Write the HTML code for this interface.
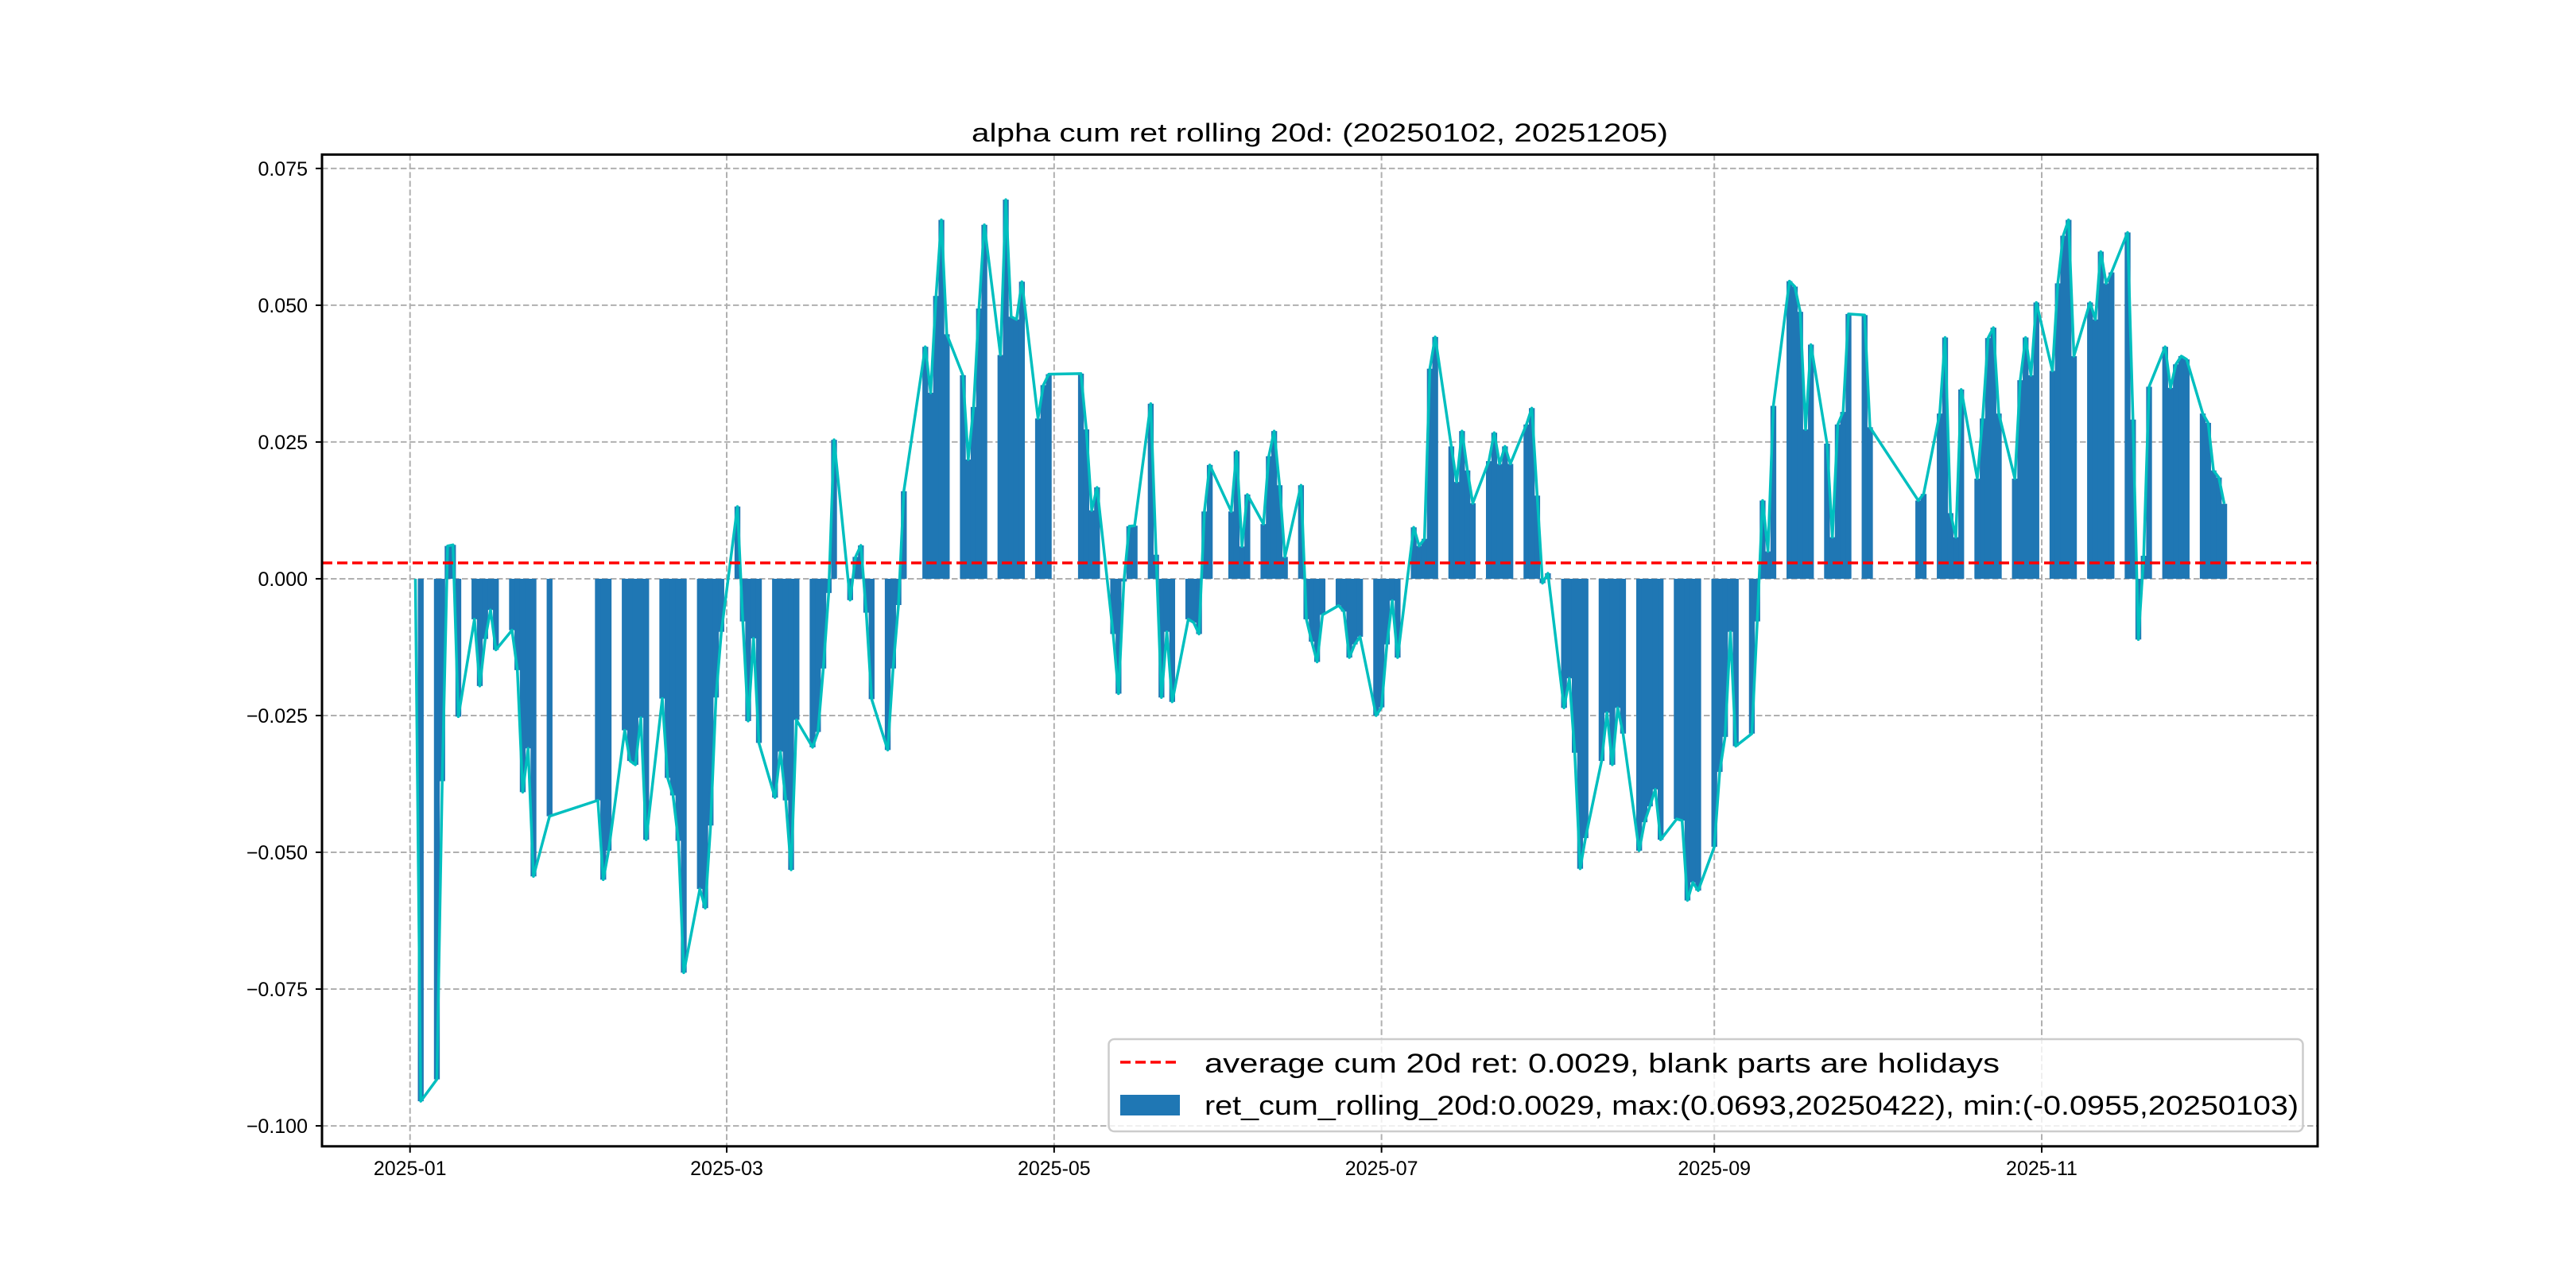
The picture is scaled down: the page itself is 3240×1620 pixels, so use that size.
<!DOCTYPE html>
<html>
<head>
<meta charset="utf-8">
<style>
  html, body { margin: 0; padding: 0; background: #ffffff; }
  svg { display: block; }
  text { font-family: "Liberation Sans", "WenQuanYi Zen Hei", sans-serif; fill: #000; }
</style>
</head>
<body>
<svg id="chart" xmlns="http://www.w3.org/2000/svg" width="3240" height="1620" viewBox="0 0 3240 1620">
  <rect x="0" y="0" width="3240" height="1620" fill="#ffffff"/>
  <g id="grid"></g>
  <g id="bars"></g>
  <g id="lineg"></g>
  <g id="avgg"></g>
  <rect x="405" y="194.4" width="2510" height="1247.4" fill="none" stroke="#000" stroke-width="3"/>
  <g id="ticks"></g>
  <text x="1660" y="178" text-anchor="middle" font-size="32" textLength="876" lengthAdjust="spacingAndGlyphs">alpha cum ret rolling 20d: (20250102, 20251205)</text>
  <g>
    <rect x="1394.5" y="1307" width="1502" height="116" rx="7" ry="7" fill="#ffffff" fill-opacity="0.8" stroke="#cccccc" stroke-width="2.5"/>
    <line x1="1409" y1="1336" x2="1484" y2="1336" stroke="#ff0000" stroke-width="3.5" stroke-dasharray="13,6"/>
    <text x="1515" y="1349" font-size="34" textLength="1000" lengthAdjust="spacingAndGlyphs">average cum 20d ret: 0.0029, blank parts are holidays</text>
    <rect x="1409" y="1377" width="75" height="26" fill="#1f77b4"/>
    <text x="1515" y="1402" font-size="34" textLength="1376" lengthAdjust="spacingAndGlyphs">ret_cum_rolling_20d:0.0029, max:(0.0693,20250422), min:(-0.0955,20250103)</text>
  </g>
</svg>
<script>
const dates = [
"01-02","01-03","01-06","01-07","01-08","01-09","01-10","01-13","01-14","01-15","01-16","01-17","01-20","01-21","01-22","01-23","01-24","01-27",
"02-05","02-06","02-07","02-10","02-11","02-12","02-13","02-14","02-17","02-18","02-19","02-20","02-21","02-24","02-25","02-26","02-27","02-28",
"03-03","03-04","03-05","03-06","03-07","03-10","03-11","03-12","03-13","03-14","03-17","03-18","03-19","03-20","03-21","03-24","03-25","03-26","03-27","03-28","03-31",
"04-01","04-02","04-03","04-07","04-08","04-09","04-10","04-11","04-14","04-15","04-16","04-17","04-18","04-21","04-22","04-23","04-24","04-25","04-28","04-29","04-30",
"05-06","05-07","05-08","05-09","05-12","05-13","05-14","05-15","05-16","05-19","05-20","05-21","05-22","05-23","05-26","05-27","05-28","05-29","05-30",
"06-03","06-04","06-05","06-06","06-09","06-10","06-11","06-12","06-13","06-16","06-17","06-18","06-19","06-20","06-23","06-24","06-25","06-26","06-27","06-30",
"07-01","07-02","07-03","07-04","07-07","07-08","07-09","07-10","07-11","07-14","07-15","07-16","07-17","07-18","07-21","07-22","07-23","07-24","07-25","07-28","07-29","07-30","07-31",
"08-01","08-04","08-05","08-06","08-07","08-08","08-11","08-12","08-13","08-14","08-15","08-18","08-19","08-20","08-21","08-22","08-25","08-26","08-27","08-28","08-29",
"09-01","09-02","09-03","09-04","09-05","09-08","09-09","09-10","09-11","09-12","09-15","09-16","09-17","09-18","09-19","09-22","09-23","09-24","09-25","09-26","09-29","09-30",
"10-09","10-10","10-13","10-14","10-15","10-16","10-17","10-20","10-21","10-22","10-23","10-24","10-27","10-28","10-29","10-30","10-31",
"11-03","11-04","11-05","11-06","11-07","11-10","11-11","11-12","11-13","11-14","11-17","11-18","11-19","11-20","11-21","11-24","11-25","11-26","11-27","11-28",
"12-01","12-02","12-03","12-04","12-05"
];
const values = [
0,-0.0955,-0.0915,-0.037,0.006,0.0062,-0.0252,-0.0074,-0.0196,-0.011,-0.0057,-0.013,-0.0094,-0.0167,-0.039,-0.031,-0.0544,-0.0434,
-0.0405,-0.055,-0.0497,-0.0277,-0.0333,-0.034,-0.0254,-0.0477,-0.0219,-0.0364,-0.0396,-0.0479,-0.072,-0.0567,-0.0602,-0.0451,-0.0217,-0.0097,
0.0132,-0.0078,-0.026,-0.0109,-0.030,-0.040,-0.0316,-0.0405,-0.0532,-0.0258,-0.0308,-0.028,-0.0164,-0.0026,0.0254,-0.0039,0.004,0.0061,-0.0062,-0.022,-0.0313,
-0.0164,-0.0048,0.016,0.0424,0.034,0.0517,0.0656,0.0447,0.0372,0.0218,0.0314,0.0494,0.0647,0.0409,0.0693,0.0479,0.0474,0.0543,0.0293,0.0354,0.0374,
0.0375,0.0273,0.0125,0.0167,-0.0101,-0.021,-0.0005,0.0096,0.0097,0.032,0.0044,-0.0217,-0.0097,-0.0225,-0.0074,-0.008,-0.0101,0.0123,0.0208,
0.0123,0.0233,0.0059,0.0154,0.0100,0.0224,0.027,0.0171,0.004,0.0171,-0.0074,-0.0115,-0.0152,-0.0066,-0.0049,-0.006,-0.0144,-0.012,-0.0106,-0.025,
-0.0235,-0.012,-0.004,-0.0144,0.0094,0.006,0.0073,0.0384,0.0442,0.0242,0.0177,0.027,0.0198,0.0138,0.0215,0.0267,0.021,0.0242,0.021,0.0282,0.0312,0.0152,-0.0008,
0.001,-0.0236,-0.0182,-0.0318,-0.053,-0.0474,-0.0333,-0.0245,-0.034,-0.0236,-0.0283,-0.0497,-0.0445,-0.0416,-0.0385,-0.0477,-0.0439,-0.0442,-0.0588,-0.0555,-0.057,
-0.049,-0.0353,-0.0289,-0.0097,-0.0306,-0.0283,-0.0078,0.0143,0.005,0.0316,0.0544,0.0534,0.0488,0.0273,0.0428,0.0247,0.0076,0.0282,0.0305,0.0484,0.0482,0.0277,
0.0143,0.0155,0.0302,0.0441,0.012,0.0076,0.0346,0.0183,0.0293,0.044,0.0459,0.0302,0.0183,0.0363,0.0441,0.0372,0.0505,
0.038,0.054,0.0627,0.0656,0.0407,0.0505,0.0474,0.0598,0.054,0.056,0.0633,0.0291,-0.0111,0.0042,0.0351,0.0424,0.0349,0.0392,0.0407,0.0401,
0.0302,0.0285,0.0198,0.0185,0.0137
];
const averageValue = 0.0029;
const yTickValues = [-0.100,-0.075,-0.050,-0.025,0.000,0.025,0.050,0.075];
const yTickLabels = ["\u22120.100","\u22120.075","\u22120.050","\u22120.025","0.000","0.025","0.050","0.075"];
const xTickDates = ["01-01","03-01","05-01","07-01","09-01","11-01"];
const xTickLabels = ["2025-01","2025-03","2025-05","2025-07","2025-09","2025-11"];

const NS = "http://www.w3.org/2000/svg";
const PL = 405, PR = 2915, PT = 194.4, PB = 1441.8;
function dayOf(s) {
  const m = parseInt(s.slice(0,2),10), d = parseInt(s.slice(3,5),10);
  return (Date.UTC(2025, m-1, d) - Date.UTC(2025,0,1)) / 86400000;
}
const days = dates.map(dayOf);
const BW = 1.0;
const dmin = Math.min(...days) - BW/2, dmax = Math.max(...days) + BW/2;
const dpad = (dmax - dmin) * 0.05;
const x0 = dmin - dpad, x1 = dmax + dpad;
function xs(d) { return PL + (d - x0) / (x1 - x0) * (PR - PL); }
const vlo = Math.min(0, ...values), vhi = Math.max(0, ...values);
const vpad = (vhi - vlo) * 0.05;
const y0 = vlo - vpad, y1 = vhi + vpad;
function ys(v) { return PB - (v - y0) / (y1 - y0) * (PB - PT); }

function mk(tag, attrs, parent) {
  const e = document.createElementNS(NS, tag);
  for (const k in attrs) e.setAttribute(k, attrs[k]);
  parent.appendChild(e);
  return e;
}
const grid = document.getElementById('grid');
const ticks = document.getElementById('ticks');
yTickValues.forEach((v, i) => {
  const y = ys(v);
  const g = mk('line', {x1: PL, x2: PR, y1: y, y2: y, stroke: '#b0b0b0', 'stroke-width': 2, 'stroke-dasharray': '7.5,3.5'}, grid);
  
  
  const t = mk('line', {x1: PL - 8, x2: PL, y1: y, y2: y, stroke: '#000', 'stroke-width': 2}, ticks);
  
  
  const l = mk('text', {x: 387, y: y + 9, 'text-anchor': 'end', 'font-size': 25}, ticks);
  l.textContent = yTickLabels[i];
  
  
});
xTickDates.forEach((s, i) => {
  const x = xs(dayOf(s));
  const g = mk('line', {x1: x, x2: x, y1: PT, y2: PB, stroke: '#b0b0b0', 'stroke-width': 2, 'stroke-dasharray': '7.5,3.5'}, grid);
  
  
  const t = mk('line', {x1: x, x2: x, y1: PB, y2: PB + 8, stroke: '#000', 'stroke-width': 2}, ticks);
  
  
  const l = mk('text', {x: x, y: 1478, 'text-anchor': 'middle', 'font-size': 25}, ticks);
  l.textContent = xTickLabels[i];
  
  
});
const bars = document.getElementById('bars');
const yz = ys(0);
const bw = (xs(BW) - xs(0));
values.forEach((v, i) => {
  const xc = xs(days[i]);
  const yv = ys(v);
  const r = mk('rect', {x: xc - bw/2 - 0.3, y: Math.min(yv, yz), width: bw + 0.6, height: Math.max(Math.abs(yz - yv), 0.01), fill: '#1f77b4'}, bars);
  
  
});
const pts = values.map((v, i) => xs(days[i]).toFixed(2) + ',' + ys(v).toFixed(2)).join(' ');
const pl = mk('polyline', {points: pts, fill: 'none', stroke: '#00bfbf', 'stroke-width': 3.5, 'stroke-linejoin': 'round'}, document.getElementById('lineg'));


const ya = ys(averageValue);
const al = mk('line', {x1: PL, x2: PR, y1: ya, y2: ya, stroke: '#ff0000', 'stroke-width': 3.5, 'stroke-dasharray': '13,6'}, document.getElementById('avgg'));


</script>
</body>
</html>
